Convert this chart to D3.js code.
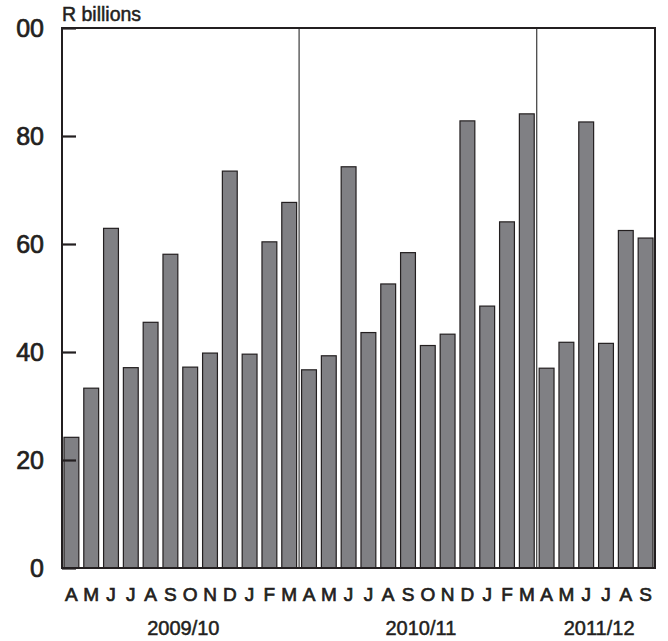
<!DOCTYPE html>
<html>
<head>
<meta charset="utf-8">
<script src="https://cdn.jsdelivr.net/npm/d3@7"></script>
<style>
  html, body { margin: 0; padding: 0; background: #fff; }
  svg { display: block; }
  text { font-family: "Liberation Sans", Arial, sans-serif; fill: #231f20; }
</style>
</head>
<body>
<svg id="chart" width="668" height="641"></svg>
<script>
// ---- data ----
const months = ["A","M","J","J","A","S","O","N","D","J","F","M",
                "A","M","J","J","A","S","O","N","D","J","F","M",
                "A","M","J","J","A","S"];
const values = [24.2, 33.3, 62.9, 37.1, 45.5, 58.1, 37.2, 39.8, 73.5, 39.6, 60.4, 67.7,
                36.7, 39.3, 74.3, 43.6, 52.6, 58.4, 41.2, 43.3, 82.8, 48.5, 64.1, 84.1,
                37.0, 41.8, 82.6, 41.6, 62.5, 61.1];
const yearLabels = ["2009/10", "2010/11", "2011/12"];
const yearMonthCounts = [12, 12, 6];
const yTickValues = [0, 20, 40, 60, 80, 100];
const yTickLabels = ["0", "20", "40", "60", "80", "00"];
const unitLabel = "R billions";

(function () {
// ---- layout ----
const svg = d3.select("#chart");
const mLeft = 62, mRight = 655, mTop = 28, mBottom = 568;

const idx = d3.range(values.length);
const x = d3.scaleBand().domain(idx).range([mLeft, mRight])
  .paddingInner(0.25).paddingOuter(0.1);
const y = d3.scaleLinear().domain([0, 100]).range([mBottom, mTop]);
const step = x.step();
const halfGap = step * x.paddingInner() / 2;

// bars
svg.append("g").selectAll("rect").data(idx).join("rect")
  .attr("x", i => x(i))
  .attr("y", i => y(values[i]))
  .attr("width", x.bandwidth())
  .attr("height", i => y(0) - y(values[i]))
  .attr("fill", "#808084")
  .attr("stroke", "#231f20")
  .attr("stroke-width", 1.2);

// year separators
let cum = 0;
const sepIdx = [];
yearMonthCounts.forEach((c, k) => { if (k > 0) sepIdx.push(cum); cum += c; });
svg.append("g").selectAll("line").data(sepIdx).join("line")
  .attr("x1", i => x(i) - halfGap).attr("x2", i => x(i) - halfGap)
  .attr("y1", y(100)).attr("y2", y(0))
  .attr("stroke", "#4a4a4a").attr("stroke-width", 1.3);

// frame
svg.append("rect")
  .attr("x", mLeft).attr("y", y(100))
  .attr("width", mRight - mLeft).attr("height", y(0) - y(100))
  .attr("fill", "none").attr("stroke", "#231f20").attr("stroke-width", 2);

// y axis
const yAxis = d3.axisLeft(y).tickValues(yTickValues)
  .tickSize(-14).tickPadding(18)
  .tickFormat((d, i) => yTickLabels[i]);
const ga = svg.append("g").attr("transform", `translate(${mLeft},0)`).call(yAxis);
ga.select(".domain").remove();
ga.selectAll(".tick line").attr("stroke", "#231f20").attr("stroke-width", 2.2);
ga.selectAll(".tick text")
  .attr("font-size", 25).attr("fill", "#231f20")
  .attr("font-family", "Liberation Sans, Arial, sans-serif")
  .style("stroke", "#231f20").style("stroke-width", 0.7);

// month labels
svg.append("g").selectAll("text").data(idx).join("text")
  .attr("x", i => x(i) + x.bandwidth() / 2)
  .attr("y", 601)
  .attr("text-anchor", "middle")
  .attr("font-size", 19)
  .style("stroke", "#231f20").style("stroke-width", 0.7)
  .text(i => months[i]);

// year labels
cum = 0;
const yearPos = yearMonthCounts.map(c => {
  const s = cum; cum += c;
  return (x(s) - halfGap + x(cum - 1) + x.bandwidth() + halfGap) / 2;
});
svg.append("g").selectAll("text").data(yearLabels).join("text")
  .attr("x", (d, k) => yearPos[k] + 3)
  .attr("y", 635)
  .attr("text-anchor", "middle")
  .attr("font-size", 20)
  .style("stroke", "#231f20").style("stroke-width", 0.5)
  .text(d => d);

// unit label
svg.append("text")
  .attr("x", mLeft).attr("y", 21)
  .attr("font-size", 19.5)
  .style("stroke", "#231f20").style("stroke-width", 0.5)
  .text(unitLabel);
})();
</script>
</body>
</html>
